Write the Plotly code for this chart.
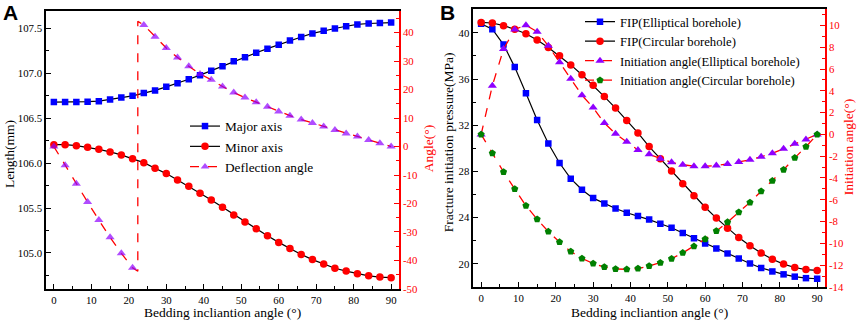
import plotly.graph_objects as go

W, H = 858, 327

# ---------------- data ----------------
angle = list(range(0, 91, 3))

# Panel A
major_axis = [106.68, 106.68, 106.68, 106.685, 106.69, 106.71, 106.73, 106.75, 106.78, 106.81,
              106.85, 106.89, 106.935, 106.98, 107.03, 107.08, 107.135, 107.18, 107.23, 107.275,
              107.32, 107.365, 107.405, 107.445, 107.475, 107.50, 107.525, 107.545, 107.555,
              107.562, 107.566]
minor_axis = [106.206, 106.206, 106.195, 106.176, 106.154, 106.125, 106.092, 106.048, 106.006,
              105.943, 105.884, 105.812, 105.742, 105.665, 105.589, 105.509, 105.424, 105.345,
              105.271, 105.191, 105.118, 105.049, 104.984, 104.926, 104.878, 104.830, 104.798,
              104.768, 104.746, 104.732, 104.725]
deflection = [0.0, -6.6, -13.1, -19.5, -25.8, -31.9, -37.5, -42.6, 42.7, 38.6, 34.6, 31.3, 28.2,
              25.5, 23.5, 21.1, 19.0, 17.2, 15.6, 14.0, 12.3, 10.85, 9.5, 8.3, 7.05, 5.8, 4.6,
              3.5, 2.3, 1.2, 0.0]
# the jump of the deflection angle curve between 21 and 24 degrees
jump_angle = [22.4, 22.4]
jump_deflection = [-43.8, 44.0]

# Panel B
fip_elliptical = [40.79, 40.31, 38.98, 37.03, 34.76, 32.46, 30.42, 28.73, 27.37, 26.41, 25.69,
                  25.22, 24.79, 24.42, 24.14, 23.83, 23.47, 23.12, 22.67, 22.22, 21.76, 21.33,
                  20.90, 20.46, 20.03, 19.64, 19.34, 19.09, 18.89, 18.76, 18.71]
fip_circular = [40.90, 40.85, 40.62, 40.31, 39.92, 39.37, 38.73, 38.01, 37.22, 36.37, 35.46,
                34.48, 33.48, 32.40, 31.33, 30.15, 29.10, 28.03, 26.94, 25.90, 24.90, 23.96,
                23.09, 22.27, 21.57, 20.93, 20.39, 19.98, 19.68, 19.50, 19.43]
init_elliptical = [0.0, 4.47, 7.83, 9.64, 10.03, 9.43, 8.13, 6.62, 5.11, 3.60, 2.46, 1.04, 0.05,
                   -0.68, -1.43, -1.83, -2.23, -2.56, -2.78, -2.92, -2.92, -2.86, -2.71, -2.53,
                   -2.33, -2.06, -1.73, -1.32, -0.86, -0.47, 0.0]
init_circular = [0.0, -1.73, -3.44, -5.00, -6.54, -7.78, -8.92, -9.88, -10.75, -11.38, -11.84,
                 -12.17, -12.35, -12.38, -12.31, -12.08, -11.77, -11.41, -10.87, -10.27, -9.61,
                 -8.86, -8.05, -7.14, -6.24, -5.22, -4.26, -3.24, -2.15, -1.13, 0.0]

# tick labels
a_left_ticks = [105.0, 105.5, 106.0, 106.5, 107.0, 107.5]
a_right_ticks = [40, 30, 20, 10, 0, -10, -20, -30, -40, -50]
b_left_ticks = [20, 24, 28, 32, 36, 40]
b_right_ticks = [10, 8, 6, 4, 2, 0, -2, -4, -6, -8, -10, -12, -14]
x_ticks = list(range(0, 91, 10))

# ---------------- styling ----------------
SERIF = "Liberation Serif, Times New Roman, serif"
RED = "#FF0000"
BLUE = "#0000FF"
VIOLET = "#8F00FF"
GREEN = "#008000"
TICKFONT = 10.8


def px_x(p):
    return p / W


def px_y(p):
    return 1 - p / H


fig = go.Figure()

# ---- Panel A ----
fig.add_trace(go.Scatter(x=angle, y=major_axis, name="Major axis", mode="lines+markers",
                         line=dict(color="black", width=1.2),
                         marker=dict(symbol="square", color=BLUE, size=6.5),
                         xaxis="x", yaxis="y", legend="legend"))
fig.add_trace(go.Scatter(x=angle, y=minor_axis, name="Minor axis", mode="lines+markers",
                         line=dict(color="black", width=1.2),
                         marker=dict(symbol="circle", color=RED, size=7.5),
                         xaxis="x", yaxis="y", legend="legend"))

split = 8  # first index after the jump
defl_x = angle[:split] + jump_angle + angle[split:]
defl_y = deflection[:split] + jump_deflection + deflection[split:]
defl_sizes = [8] * split + [0] * len(jump_angle) + [8] * (len(angle) - split)
fig.add_trace(go.Scatter(x=defl_x, y=defl_y, name="Deflection angle", mode="lines+markers",
                         line=dict(color=RED, width=1.3, dash="dash"),
                         marker=dict(symbol="triangle-up", color=VIOLET, size=defl_sizes,
                                     line=dict(width=0)),
                         xaxis="x", yaxis="y2", legend="legend"))

# ---- Panel B ----
fig.add_trace(go.Scatter(x=angle, y=fip_elliptical, name="FIP(Elliptical borehole)",
                         mode="lines+markers", line=dict(color="black", width=1.2),
                         marker=dict(symbol="square", color=BLUE, size=6.5),
                         xaxis="x2", yaxis="y3", legend="legend2"))
fig.add_trace(go.Scatter(x=angle, y=fip_circular, name="FIP(Circular borehole)",
                         mode="lines+markers", line=dict(color="black", width=1.2),
                         marker=dict(symbol="circle", color=RED, size=7.5),
                         xaxis="x2", yaxis="y3", legend="legend2"))
fig.add_trace(go.Scatter(x=angle, y=init_elliptical, name="Initiation angle(Elliptical borehole)",
                         mode="lines+markers", line=dict(color=RED, width=1.3, dash="dash"),
                         marker=dict(symbol="triangle-up", color=VIOLET, size=8),
                         xaxis="x2", yaxis="y4", legend="legend2"))
fig.add_trace(go.Scatter(x=angle, y=init_circular, name="Initiation angle(Circular borehole)",
                         mode="lines+markers", line=dict(color=RED, width=1.3, dash="dash"),
                         marker=dict(symbol="pentagon", color=GREEN, size=7.5),
                         xaxis="x2", yaxis="y4", legend="legend2"))

# ---------------- axes ----------------
A_X = [px_x(46), px_x(399)]
A_Y = [px_y(294.3), px_y(10.7)]
B_X = [px_x(473.3), px_x(825)]
B_Y = [px_y(292.3), px_y(9.3)]


def xaxis_common(domain, anchor):
    return dict(domain=domain, anchor=anchor, range=[-2.1, 92.1], showgrid=False, zeroline=False,
                showline=True, linecolor="black", linewidth=1.5, mirror=True,
                ticks="inside", ticklen=5, tickwidth=1.2, tickcolor="black",
                tickvals=x_ticks, ticktext=[str(v) for v in x_ticks],
                minor=dict(ticks="inside", ticklen=3, tickwidth=1.2, tickcolor="black", dtick=5,
                           tick0=0),
                tickfont=dict(family=SERIF, size=TICKFONT, color="black"))


def fmt(v, d=0):
    return f"{v:.{d}f}"


fig.update_layout(
    width=W, height=H, autosize=False,
    margin=dict(l=0, r=0, t=0, b=0),
    paper_bgcolor="white", plot_bgcolor="white",
    showlegend=True,
    xaxis=xaxis_common(A_X, "y"),
    xaxis2=xaxis_common(B_X, "y3"),
    yaxis=dict(domain=A_Y, anchor="x", range=[104.6, 107.7], showgrid=False, zeroline=False,
               showline=True, linecolor="black", linewidth=1.5,
               ticks="inside", ticklen=5, tickwidth=1.2, tickcolor="black",
               tickvals=a_left_ticks, ticktext=[fmt(v, 1) for v in a_left_ticks],
               minor=dict(ticks="inside", ticklen=3, tickwidth=1.2, tickcolor="black",
                          dtick=0.25, tick0=105.0),
               tickfont=dict(family=SERIF, size=TICKFONT, color="black")),
    yaxis2=dict(overlaying="y", side="right", anchor="x", range=[-50, 47.8], showgrid=False,
                zeroline=False, showline=True, linecolor=RED, linewidth=1.5,
                ticks="inside", ticklen=5, tickwidth=1.2, tickcolor=RED,
                tickvals=a_right_ticks, ticktext=[fmt(v) for v in a_right_ticks],
                minor=dict(ticks="inside", ticklen=3, tickwidth=1.2, tickcolor=RED,
                           dtick=5, tick0=0),
                tickfont=dict(family=SERIF, size=TICKFONT, color=RED)),
    yaxis3=dict(domain=B_Y, anchor="x2", range=[18, 42.05], showgrid=False, zeroline=False,
                showline=True, linecolor="black", linewidth=1.5,
                ticks="inside", ticklen=5, tickwidth=1.2, tickcolor="black",
                tickvals=b_left_ticks, ticktext=[fmt(v) for v in b_left_ticks],
                minor=dict(ticks="inside", ticklen=3, tickwidth=1.2, tickcolor="black",
                           dtick=2, tick0=0),
                tickfont=dict(family=SERIF, size=TICKFONT, color="black")),
    yaxis4=dict(overlaying="y3", side="right", anchor="x2", range=[-14, 11.5], showgrid=False,
                zeroline=False, showline=True, linecolor=RED, linewidth=1.5,
                ticks="inside", ticklen=5, tickwidth=1.2, tickcolor=RED,
                tickvals=b_right_ticks, ticktext=[fmt(v) for v in b_right_ticks],
                minor=dict(ticks="inside", ticklen=3, tickwidth=1.2, tickcolor=RED,
                           dtick=1, tick0=0),
                tickfont=dict(family=SERIF, size=TICKFONT, color=RED)),
    legend=dict(x=px_x(185), y=px_y(113), xanchor="left", yanchor="top",
                bgcolor="rgba(0,0,0,0)", borderwidth=0, tracegroupgap=0,
                font=dict(family=SERIF, size=13.3, color="black")),
    legend2=dict(x=px_x(580), y=px_y(7), xanchor="left", yanchor="top",
                 bgcolor="rgba(0,0,0,0)", borderwidth=0, tracegroupgap=0,
                 font=dict(family=SERIF, size=12.7, color="black")),
)

annotations = [
    dict(text="<b>A</b>", x=px_x(1), y=px_y(-1), xanchor="left", yanchor="top",
         font=dict(family="Liberation Sans, Arial, sans-serif", size=21, color="black")),
    dict(text="<b>B</b>", x=px_x(438), y=px_y(-1), xanchor="left", yanchor="top",
         font=dict(family="Liberation Sans, Arial, sans-serif", size=21, color="black")),
    dict(text="Length(mm)", x=px_x(9), y=px_y(157), textangle=-90, xanchor="center",
         yanchor="middle", font=dict(family=SERIF, size=13.5, color="black")),
    dict(text="Angle(°)", x=px_x(428), y=px_y(152), textangle=-90, xanchor="center",
         yanchor="middle", font=dict(family=SERIF, size=13.5, color=RED)),
    dict(text="Fracture initiation pressure(MPa)", x=px_x(448), y=px_y(145), textangle=-90,
         xanchor="center", yanchor="middle", font=dict(family=SERIF, size=13.5, color="black")),
    dict(text="Initiation angle(°)", x=px_x(848), y=px_y(150), textangle=-90,
         xanchor="center", yanchor="middle", font=dict(family=SERIF, size=13.5, color=RED)),
    dict(text="Bedding incliantion angle (°)", x=px_x(222.5), y=px_y(318.5), xanchor="center",
         yanchor="middle", font=dict(family=SERIF, size=13.5, color="black")),
    dict(text="Bedding incliantion angle (°)", x=px_x(649), y=px_y(318.5), xanchor="center",
         yanchor="middle", font=dict(family=SERIF, size=13.5, color="black")),
]
for a in annotations:
    a.update(xref="paper", yref="paper", showarrow=False)
fig.update_layout(annotations=annotations)

# remove the browser's default 8px page margin so the figure sits at the window's corner
fig.write_html("out.html", config={"displayModeBar": False},
               post_script="document.body.style.margin='0';")
